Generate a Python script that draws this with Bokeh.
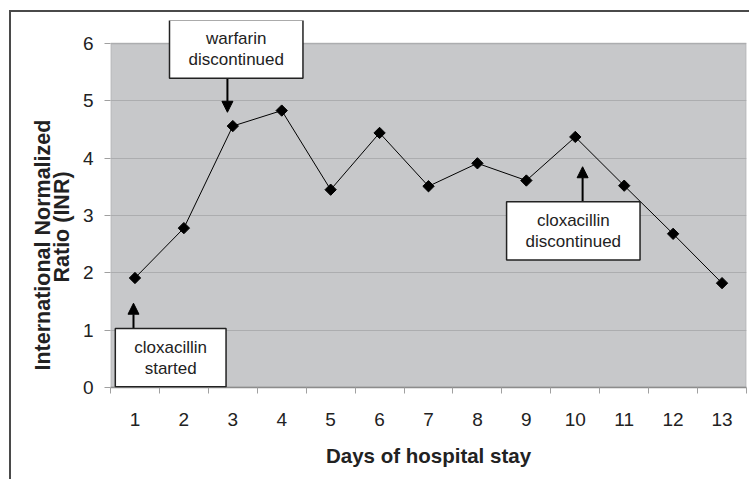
import math
from bokeh.plotting import figure
from bokeh.models import Label, Arrow, NormalHead, FixedTicker, Range1d, BoxAnnotation, Title
from bokeh.embed import file_html
from bokeh.resources import INLINE

days = list(range(1, 14))
inr = [1.91, 2.78, 4.56, 4.83, 3.45, 4.44, 3.51, 3.91, 3.61, 4.37, 3.52, 2.68, 1.82]
y_ticks = [0, 1, 2, 3, 4, 5, 6]
x_title = "Days of hospital stay"
y_title = ["International Normalized", "Ratio (INR)"]

# annotations: (text, box center x, box center y, arrow x, arrow start y, arrow end y)
notes = [
    ("warfarin\ndiscontinued", 3.07, 5.90, 2.89, 5.41, 4.80),
    ("cloxacillin\nstarted", 1.73, 0.52, 0.97, 1.02, 1.47),
    ("cloxacillin\ndiscontinued", 9.96, 2.73, 10.15, 3.23, 3.85),
]

TXT = "#222222"
FONT = "Liberation Sans"
GRAY_EDGE = "#8c8c8c"

p = figure(width=740, height=469, output_backend="svg", toolbar_location=None,
           x_range=Range1d(0.5, 13.5), y_range=Range1d(0, 6.401),
           min_border_left=99, min_border_right=5, min_border_top=8,
           min_border_bottom=94,
           background_fill_color="white", border_fill_color="white",
           outline_line_color=None)
p.styles = {"margin-left": "9px", "margin-top": "10px",
            "border-top": "2px solid #4a4a4a", "border-left": "2px solid #4a4a4a"}

# grey plotting area (0..6)
p.add_layout(BoxAnnotation(bottom=0, top=6, fill_color="#c7c8ca", fill_alpha=1,
                           line_color=GRAY_EDGE, line_width=2, level="image"))

p.xgrid.visible = False
p.ygrid.ticker = FixedTicker(ticks=y_ticks[1:])
p.ygrid.grid_line_color = "#acadaf"
p.ygrid.grid_line_width = 1.2

xa = p.xaxis[0]
xa.ticker = FixedTicker(ticks=days, minor_ticks=[d - 0.5 for d in days] + [13.5])
xa.major_tick_out = 0
xa.major_tick_in = 0
xa.minor_tick_out = 6
xa.minor_tick_in = 0
xa.minor_tick_line_color = "#a0a0a0"
xa.axis_line_color = GRAY_EDGE
xa.axis_line_width = 1.5
xa.major_label_text_font = FONT
xa.major_label_text_font_size = "19px"
xa.major_label_text_color = TXT
xa.major_label_standoff = 19
xa.axis_label = x_title
xa.axis_label_text_font = FONT
xa.axis_label_text_font_size = "20.5px"
xa.axis_label_text_font_style = "bold"
xa.axis_label_text_color = TXT
xa.axis_label_standoff = 15

ya = p.yaxis[0]
ya.ticker = FixedTicker(ticks=y_ticks)
ya.major_tick_out = 6
ya.major_tick_in = 0
ya.minor_tick_out = 0
ya.minor_tick_in = 0
ya.major_tick_line_color = "#a0a0a0"
ya.axis_line_color = None
ya.major_label_text_font = FONT
ya.major_label_text_font_size = "19px"
ya.major_label_text_color = TXT
ya.major_label_standoff = 11

p.line(days, inr, line_color="black", line_width=1)
p.scatter(days, inr, marker="square", angle=math.pi / 4, size=8,
          fill_color="black", line_color="black")

title_style = dict(text_font=FONT, text_font_size="21.5px", text_font_style="bold",
                   text_color=TXT)
p.add_layout(Title(text=y_title[1], align="left", offset=105, standoff=10,
                   vertical_align="middle", **title_style), "left")
p.add_layout(Title(text=y_title[0], align="left", offset=17, standoff=-22,
                   vertical_align="bottom", **title_style), "left")

for text, bx, by, ax, ay0, ay1 in notes:
    p.add_layout(Arrow(end=NormalHead(size=11, fill_color="black", line_color="black"),
                       x_start=ax, y_start=ay0, x_end=ax, y_end=ay1,
                       line_color="black", line_width=2))
    p.add_layout(Label(x=bx, y=by, text=text, text_align="center",
                       text_baseline="middle", text_font=FONT,
                       text_font_size="17px", text_color=TXT, text_line_height=1.12,
                       background_fill_color="white", border_line_color="#222222",
                       border_line_width=1.5, padding=(19, 9)))

open("out.html", "w").write(file_html(p, INLINE))
